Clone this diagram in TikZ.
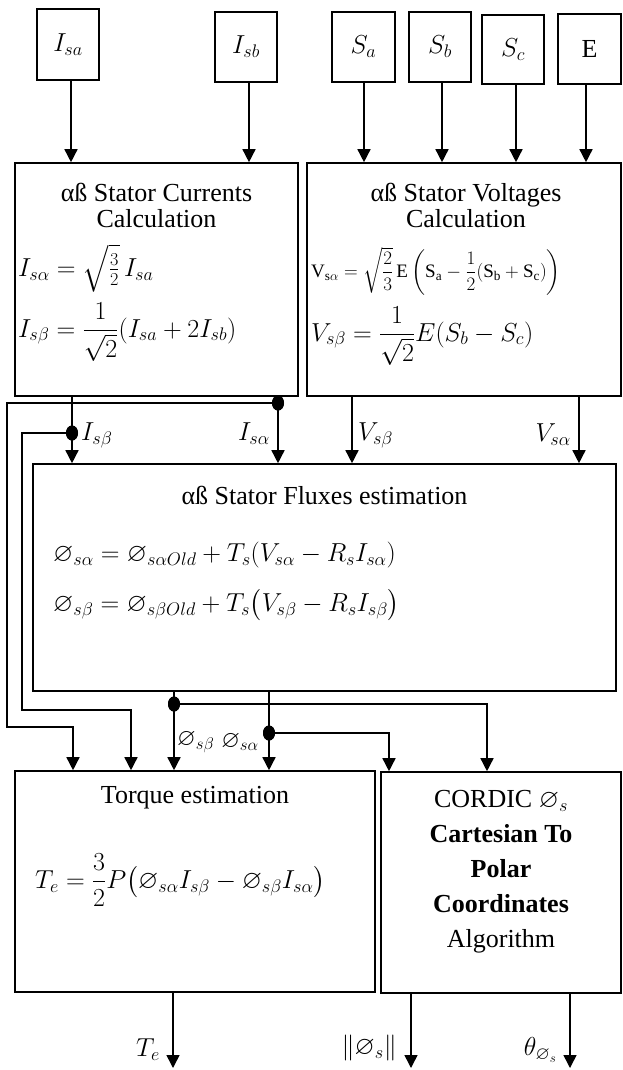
\RequirePackage{fix-cm}
\documentclass[tikz,border=0pt]{standalone}
\usepackage{amsmath,amssymb}
\usepackage{fontspec}
\setmainfont{Liberation Serif}
\usetikzlibrary{arrows.meta,shapes.geometric}
\tikzset{
  box/.style={draw, line width=1.6pt, inner sep=0pt},
  txt/.style={inner sep=0pt, font=\rmfamily\fontsize{26}{26}\selectfont},
  lbl/.style={inner sep=0pt, font=\rmfamily\fontsize{24}{24}\selectfont},
  conn/.style={line width=1.5pt, -{Triangle[length=13pt,width=13pt]}},
  jdot/.style={ellipse, fill=black, minimum width=12pt, minimum height=15pt, inner sep=0pt},
}
\begin{document}
\begin{tikzpicture}[x=1pt,y=-1pt]
\useasboundingbox (0,0) rectangle (623,1070);

% input boxes
\node[box, txt, minimum width=62pt, minimum height=71pt] (isa) at (68,44.5) {$I_{sa}$};
\node[box, txt, minimum width=62pt, minimum height=70pt] (isb) at (246,47) {$I_{sb}$};
\node[box, txt, minimum width=63pt, minimum height=70pt] (sa) at (363.5,47) {$S_a$};
\node[box, txt, minimum width=62pt, minimum height=70pt] (sb) at (440,47) {$S_b$};
\node[box, txt, minimum width=62pt, minimum height=69pt] (sc) at (513,49.5) {$S_c$};
\node[box, txt, minimum width=63pt, minimum height=70pt] (ee) at (589.5,49) {E};

% main boxes
\node[box, minimum width=283pt, minimum height=233pt] (cur) at (156.5,279.5) {};
\node[box, minimum width=314pt, minimum height=233pt] (vol) at (464,279.5) {};
\node[box, minimum width=583pt, minimum height=227pt] (flux) at (324.5,577.5) {};
\node[box, minimum width=360pt, minimum height=221pt] (tq) at (195,881.5) {};
\node[box, minimum width=240pt, minimum height=221pt] (cord) at (501,882.5) {};

% texts in boxes
\node[txt, align=center] (curT) at (156.5,205) {αß Stator Currents\\Calculation};
\node[txt, anchor=west] (curE1) at (18,268) {$I_{s\alpha} = \sqrt{\tfrac{3}{2}}\,I_{sa}$};
\node[txt, anchor=west] (curE2) at (18,332) {$I_{s\beta} = \dfrac{1}{\sqrt{2}}(I_{sa}+2I_{sb})$};

\node[txt, align=center] (volT) at (466,205) {αß Stator Voltages\\Calculation};
\node[inner sep=0pt, anchor=west, font=\rmfamily\fontsize{19}{19}\selectfont] (volE1) at (311,271)
  {$\mathrm{V_{s\alpha}} = \sqrt{\dfrac{2}{3}}\,\mathrm{E}\left(\mathrm{S_a} - \dfrac{1}{2}(\mathrm{S_b}+\mathrm{S_c})\right)$};
\node[txt, anchor=west] (volE2) at (311,336) {$V_{s\beta} = \dfrac{1}{\sqrt{2}}E(S_b - S_c)$};

\node[txt] (fluxT) at (324.5,495) {αß Stator Fluxes estimation};
\node[txt, anchor=west] (fluxE1) at (53,555) {$\varnothing_{s\alpha} = \varnothing_{s\alpha Old} + T_s(V_{s\alpha} - R_s I_{s\alpha})$};
\node[txt, anchor=west] (fluxE2) at (53,605) {$\varnothing_{s\beta} = \varnothing_{s\beta Old} + T_s\bigl(V_{s\beta} - R_s I_{s\beta}\bigr)$};

\node[txt] (tqT) at (195,798) {Torque estimation};
\node[txt, anchor=west] (tqE) at (35,880) {$T_e = \dfrac{3}{2}P\bigl(\varnothing_{s\alpha}I_{s\beta} - \varnothing_{s\beta}I_{s\alpha}\bigr)$};

\node[inner sep=0pt, align=center, font=\rmfamily\fontsize{26}{35}\selectfont] (cordT) at (501,872)
  {CORDIC $\varnothing_s$\\\textbf{Cartesian To}\\\textbf{Polar}\\\textbf{Coordinates}\\Algorithm};

% input arrows
\draw[conn] (isa.south -| 71,0) -- (cur.north -| 71,0);
\draw[conn] (isb.south -| 249,0) -- (cur.north -| 249,0);
\draw[conn] (sa.south -| 364,0) -- (vol.north -| 364,0);
\draw[conn] (sb.south -| 442,0) -- (vol.north -| 442,0);
\draw[conn] (sc.south -| 516,0) -- (vol.north -| 516,0);
\draw[conn] (ee.south -| 586,0) -- (vol.north -| 586,0);

% junction dots
\node[jdot] (dIa) at (278,403) {};
\node[jdot] (dIb) at (72,433) {};
\node[jdot] (dPb) at (174,704) {};
\node[jdot] (dPa) at (269,733) {};

% currents / voltages to flux
\draw[conn] (cur.south -| 72,0) -- (flux.north -| 72,0);
\draw[conn] (cur.south -| 278,0) -- (flux.north -| 278,0);
\draw[conn] (vol.south -| 352,0) -- (flux.north -| 352,0);
\draw[conn] (vol.south -| 579,0) -- (flux.north -| 579,0);

% branches to torque
\draw[conn] (dIa.center) -- (7,0 |- dIa.center) |- (73,727) -- (tq.north -| 73,0);
\draw[conn] (dIb.center) -- (22,0 |- dIb.center) |- (131,710) -- (tq.north -| 131,0);

% fluxes
\draw[conn] (flux.south -| 174,0) -- (tq.north -| 174,0);
\draw[conn] (flux.south -| 269,0) -- (tq.north -| 269,0);
\draw[conn] (dPb.center) -| (cord.north -| 487,0);
\draw[conn] (dPa.center) -| (cord.north -| 389,0);

% outputs
\coordinate (oTe) at (173,1068);
\coordinate (oPs) at (411,1068);
\coordinate (oTh) at (570,1068);
\draw[conn] (tq.south -| oTe) -- (oTe);
\draw[conn] (cord.south -| oPs) -- (oPs);
\draw[conn] (cord.south -| oTh) -- (oTh);

% dots on top
\node[jdot] at (dIa) {};
\node[jdot] at (dIb) {};
\node[jdot] at (dPb) {};
\node[jdot] at (dPa) {};

% labels
\node[txt, anchor=west] (lIb) at (81,435) {$I_{s\beta}$};
\node[txt, anchor=east] (lIa) at (270,434) {$I_{s\alpha}$};
\node[txt, anchor=west] (lVb) at (358,435) {$V_{s\beta}$};
\node[txt, anchor=east] (lVa) at (571,435) {$V_{s\alpha}$};
\node[lbl, anchor=west] (lPb) at (177,742) {$\varnothing_{s\beta}$};
\node[lbl, anchor=east] (lPa) at (259,742) {$\varnothing_{s\alpha}$};
\node[txt, anchor=east] (lTe) at (160,1050) {$T_e$};
\node[txt, anchor=east] (lPs) at (397,1048) {$\|\varnothing_s\|$};
\node[txt, anchor=east] (lTh) at (557,1050) {$\theta_{\varnothing_s}$};
\end{tikzpicture}
\end{document}
